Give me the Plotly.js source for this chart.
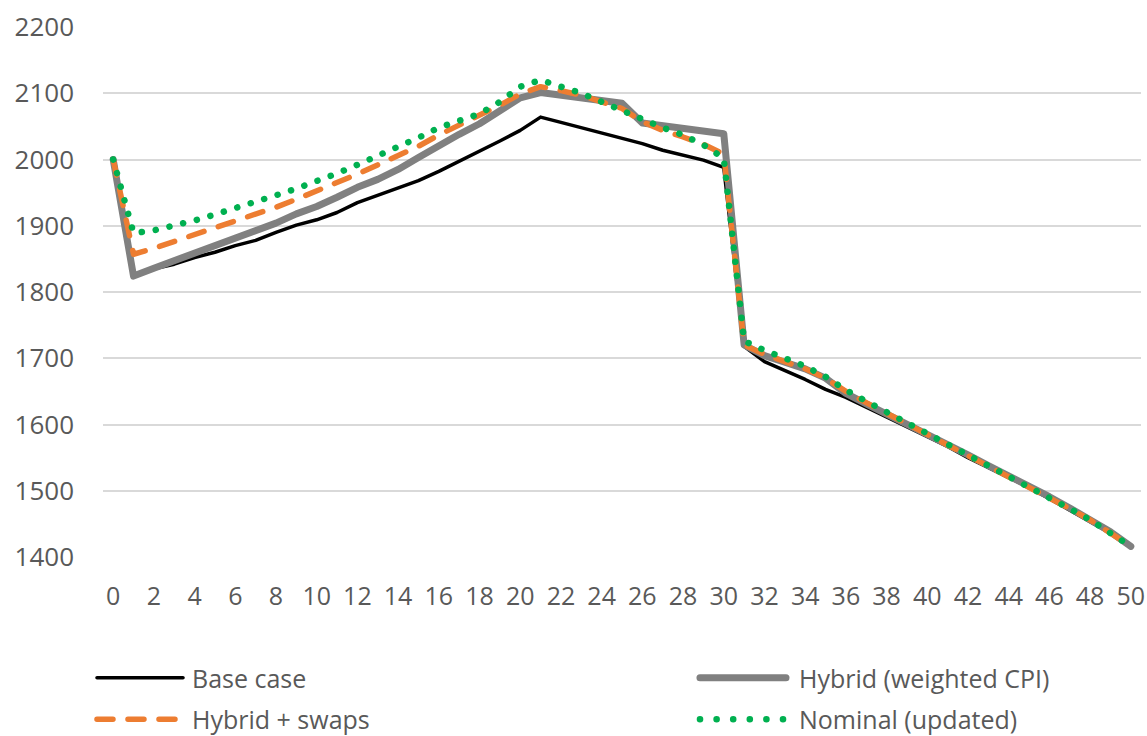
<!DOCTYPE html>
<html>
<head>
<meta charset="utf-8">
<script src="https://cdn.plot.ly/plotly-3.0.1.min.js"></script>
<style>
html,body{margin:0;padding:0;background:#fff;}
.js-line, .shapelayer path { stroke-linecap: round; stroke-linejoin: round; }
</style>
</head>
<body>
<div id="chart" style="width:1147px;height:736px;"></div>
<script>
const years = Array.from({length: 51}, (_, i) => i);

const seriesNames = ["Base case", "Hybrid (weighted CPI)", "Hybrid + swaps", "Nominal (updated)"];

const baseCase = [2000,1824,1835,1842,1852,1860,1870,1878,1890,1901,
  1909,1920,1935,1946,1957,1968,1982,1997,2013,2028,
  2044,2064,2056,2048,2040,2032,2024,2014,2006,1999,
  1988,1718,1695,1682,1668,1653,1641,1626,1611,1596,
  1581,1567,1550,1535,1520,1505,1488,1471,1454,1436,1416];

const hybridCPI = [2000,1824,1836,1847,1860,1871,1882,1893,1904,1918,
  1929,1943,1958,1970,1985,2003,2022,2038,2054,2072,
  2093,2101,2097,2093,2089,2085,2055,2051,2047,2043,
  2039,1720,1704,1694,1684,1670,1647,1631,1616,1601,
  1586,1570,1554,1538,1523,1508,1491,1474,1457,1438,1416];

const hybridSwaps = [2000,1857,1866,1876,1887,1897,1907,1917,1928,1940,
  1952,1965,1978,1992,2006,2020,2037,2052,2066,2082,
  2099,2110,2104,2097,2087,2077,2057,2044,2034,2023,
  2008,1720,1706,1695,1684,1670,1650,1633,1617,1601,
  1586,1570,1554,1538,1522,1507,1490,1473,1456,1437,1416];

const nominal = [2000,1889,1893,1900,1908,1917,1926,1936,1946,1956,
  1967,1979,1992,2005,2019,2033,2048,2058,2069,2087,
  2110,2120,2111,2100,2087,2074,2059,2048,2037,2022,
  2002,1726,1712,1700,1688,1672,1652,1635,1619,1602,
  1587,1570,1554,1538,1522,1507,1490,1473,1456,1437,1416];

const xTicks = [0,2,4,6,8,10,12,14,16,18,20,22,24,26,28,30,32,34,36,38,40,42,44,46,48,50];
const yTicks = [1400,1500,1600,1700,1800,1900,2000,2100,2200];

const styles = [
  {color: "#000000", width: 3.5, dash: "solid"},
  {color: "#808080", width: 7, dash: "solid"},
  {color: "#ED7D31", width: 5.5, dash: "16px,15px"},
  {color: "#00B050", width: 6.5, dash: "0.1px,14px"}
];
const legendDash = ["solid", "solid", "16px,15px", "0.1px,16.5px"];
const allSeries = [baseCase, hybridCPI, hybridSwaps, nominal];

const traces = allSeries.map((ys, i) => ({
  type: "scatter", mode: "lines", x: years, y: ys, name: seriesNames[i],
  line: {color: styles[i].color, width: styles[i].width, dash: styles[i].dash},
  hoverinfo: "skip", showlegend: false
}));

// custom legend (two columns, two rows) placed below the plot
const legX = [[-0.0058, 0.0771, 0.0838], [0.5751, 0.658, 0.6686]];
const legY = [-0.228, -0.306];
const shapes = [];
const annotations = [];
seriesNames.forEach((name, i) => {
  const col = i % 2, row = Math.floor(i / 2);
  shapes.push({type: "line", xref: "paper", yref: "paper",
    x0: legX[col][0], x1: legX[col][1], y0: legY[row], y1: legY[row],
    line: {color: styles[i].color, width: styles[i].width, dash: legendDash[i]}});
  annotations.push({xref: "paper", yref: "paper", x: legX[col][2], y: legY[row],
    xanchor: "left", yanchor: "middle", showarrow: false, text: name,
    font: {family: "Open Sans, sans-serif", size: 25, color: "#595959"}});
});

const layout = {
  width: 1147, height: 736,
  margin: {l: 103, r: 6, t: 27, b: 179},
  paper_bgcolor: "#ffffff", plot_bgcolor: "#ffffff",
  showlegend: false,
  font: {family: "Open Sans, sans-serif", size: 25, color: "#595959"},
  xaxis: {
    range: [-0.5, 50.5], tickvals: xTicks, ticktext: xTicks.map(String),
    showgrid: false, zeroline: false, showline: false, ticks: "",
    ticklabelstandoff: 22,
    tickfont: {family: "Open Sans, sans-serif", size: 25, color: "#595959"}
  },
  yaxis: {
    range: [1400, 2200], tickvals: yTicks, ticktext: yTicks.map(String),
    showgrid: true, gridcolor: "#d9d9d9", gridwidth: 2,
    zeroline: false, showline: false, ticks: "",
    ticklabelstandoff: 28,
    tickfont: {family: "Open Sans, sans-serif", size: 26, color: "#595959"}
  },
  shapes: shapes,
  annotations: annotations
};

Plotly.newPlot("chart", traces, layout, {displayModeBar: false, staticPlot: true});
</script>
</body>
</html>
